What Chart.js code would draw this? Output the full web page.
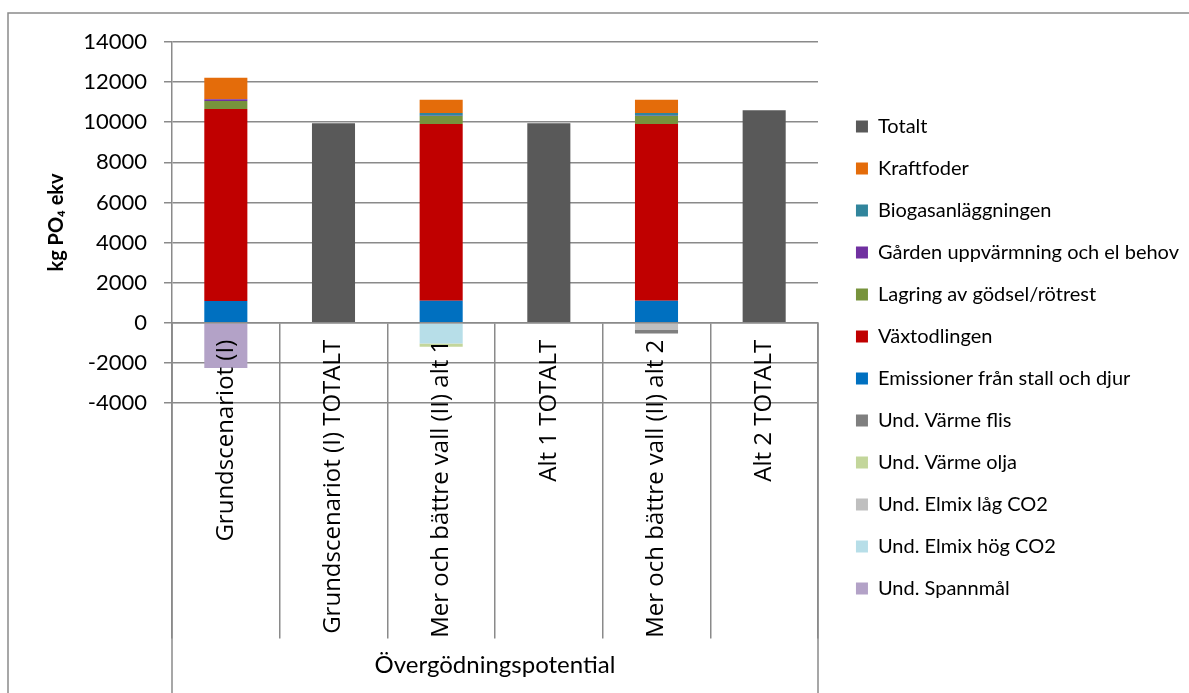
<!DOCTYPE html>
<html lang="sv">
<head>
<meta charset="UTF-8">
<title>Övergödningspotential</title>
<script src="https://cdn.jsdelivr.net/npm/chart.js"></script>
<style>
  html, body { margin: 0; padding: 0; background: #fff; }
</style>
</head>
<body>
<canvas id="myChart" width="1189" height="693"></canvas>
<script>
// data (kg PO4 ekv)
const categories = [
  'Grundscenariot (I)',
  'Grundscenariot (I) TOTALT',
  'Mer och bättre vall (II) alt 1',
  'Alt 1 TOTALT',
  'Mer och bättre vall (II) alt 2',
  'Alt 2 TOTALT'
];
const spannmal     = [-2250, null, null, null, null, null];
const elmixHog     = [null, null, -1030, null, null, null];
const elmixLag     = [null, null, null, null, -360, null];
const varmeOlja    = [null, null, -170, null, null, null];
const varmeFlis    = [null, null, null, null, -170, null];
const emissioner   = [1090, null, 1100, null, 1100, null];
const vaxtodlingen = [9570, null, 8810, null, 8810, null];
const lagring      = [400, null, 400, null, 400, null];
const garden       = [80, null, 15, null, 15, null];
const biogas       = [null, null, 130, null, 130, null];
const kraftfoder   = [1080, null, 665, null, 665, null];
const totalt       = [null, 9950, null, 9950, null, 10600];

const yMin = -4000, yMax = 14000, yStep = 2000;
const groupLabel = 'Övergödningspotential';

// stacking order (bottom -> top), legend shows it reversed
const series = [
  ['Und. Spannmål', spannmal, '#B3A2C7'],
  ['Und. Elmix hög CO2', elmixHog, '#B7DEE8'],
  ['Und. Elmix låg CO2', elmixLag, '#BFBFBF'],
  ['Und. Värme olja', varmeOlja, '#C3D69B'],
  ['Und. Värme flis', varmeFlis, '#7F7F7F'],
  ['Emissioner från stall och djur', emissioner, '#0070C0'],
  ['Växtodlingen', vaxtodlingen, '#C00000'],
  ['Lagring av gödsel/rötrest', lagring, '#77933C'],
  ['Gården uppvärmning och el behov', garden, '#7030A0'],
  ['Biogasanläggningen', biogas, '#31859C'],
  ['Kraftfoder', kraftfoder, '#E46C0A'],
  ['Totalt', totalt, '#595959']
];

const gridCol = '#8a8a8a';
const PLOT_LEFT = 172, PLOT_RIGHT = 818, PLOT_TOP = 42, PLOT_BOTTOM = 403;
const PAD_TOP = 22;

// outer frame + the two long group separators under the plot
const framePlugin = {
  id: 'frame',
  afterDraw(chart) {
    const ctx = chart.ctx, a = chart.chartArea;
    const y0 = chart.scales.y.getPixelForValue(0);
    ctx.save();
    ctx.strokeStyle = gridCol;
    ctx.lineWidth = 1.5;
    ctx.strokeRect(8, 13, chart.width + 20, chart.height + 20);
    ctx.beginPath();
    [a.left, a.right].forEach(x => { ctx.moveTo(x, y0); ctx.lineTo(x, chart.height); });
    ctx.stroke();
    ctx.restore();
  }
};

const ctx = document.getElementById('myChart').getContext('2d');
new Chart(ctx, {
  type: 'bar',
  data: {
    labels: categories,
    datasets: series.map(([label, data, color]) => ({
      label: label,
      data: data,
      backgroundColor: color,
      borderWidth: 0,
      xAxisID: 'x',
      yAxisID: 'y',
      barPercentage: 0.4,
      categoryPercentage: 1.0
    }))
  },
  options: {
    responsive: false,
    animation: false,
    devicePixelRatio: 1,
    layout: { padding: { left: 0, top: PAD_TOP, right: 0, bottom: 0 } },
    plugins: {
      tooltip: { enabled: false },
      legend: {
        position: 'right',
        reverse: true,
        maxWidth: 400,
        labels: {
          boxWidth: 12,
          boxHeight: 12,
          padding: 22,
          color: '#000',
          font: { family: 'Lato', size: 20 }
        }
      }
    },
    scales: {
      x: {
        stacked: true,
        position: { y: 0 },
        grid: {
          offset: true,
          drawOnChartArea: false,
          tickLength: 315,
          color: gridCol,
          lineWidth: 1.5
        },
        border: { color: gridCol, width: 1.5, z: 1 },
        ticks: {
          z: 1,
          autoSkip: false,
          minRotation: 90,
          maxRotation: 90,
          padding: -298,
          color: '#000',
          font: { family: 'Open Sans', size: 24 }
        }
      },
      xBottom: {
        type: 'linear',
        position: 'bottom',
        grid: { display: false },
        border: { display: false },
        ticks: { display: false },
        title: {
          display: true,
          text: groupLabel,
          color: '#000',
          font: { family: 'Lato', size: 24 },
          padding: { top: 0, bottom: 13 }
        },
        afterFit(s) { s.height = 693 - PLOT_BOTTOM; }
      },
      xTop: {
        type: 'linear',
        position: 'top',
        grid: { display: false },
        border: { display: false },
        ticks: { display: false },
        afterFit(s) { s.height = PLOT_TOP - PAD_TOP; }
      },
      y: {
        stacked: true,
        min: yMin,
        max: yMax,
        ticks: {
          stepSize: yStep,
          padding: 17,
          color: '#000',
          font: { family: 'Lato', size: 22 },
          callback: v => String(v)
        },
        grid: { color: gridCol, lineWidth: 1.5, tickLength: 8 },
        border: { color: gridCol, width: 1.5 },
        title: {
          display: true,
          text: 'kg PO₄ ekv',
          color: '#000',
          font: { family: 'Lato', size: 20, weight: 'bold' },
          padding: { top: 45, bottom: 0 }
        },
        afterFit(s) { s.width = PLOT_LEFT; }
      },
      yRight: {
        type: 'linear',
        position: 'right',
        grid: { display: false },
        border: { display: false },
        ticks: { display: false },
        afterFit(s) { s.width = Math.max(0, 1189 - PLOT_RIGHT - s.chart.legend.width); }
      }
    }
  },
  plugins: [framePlugin]
});
</script>
</body>
</html>
